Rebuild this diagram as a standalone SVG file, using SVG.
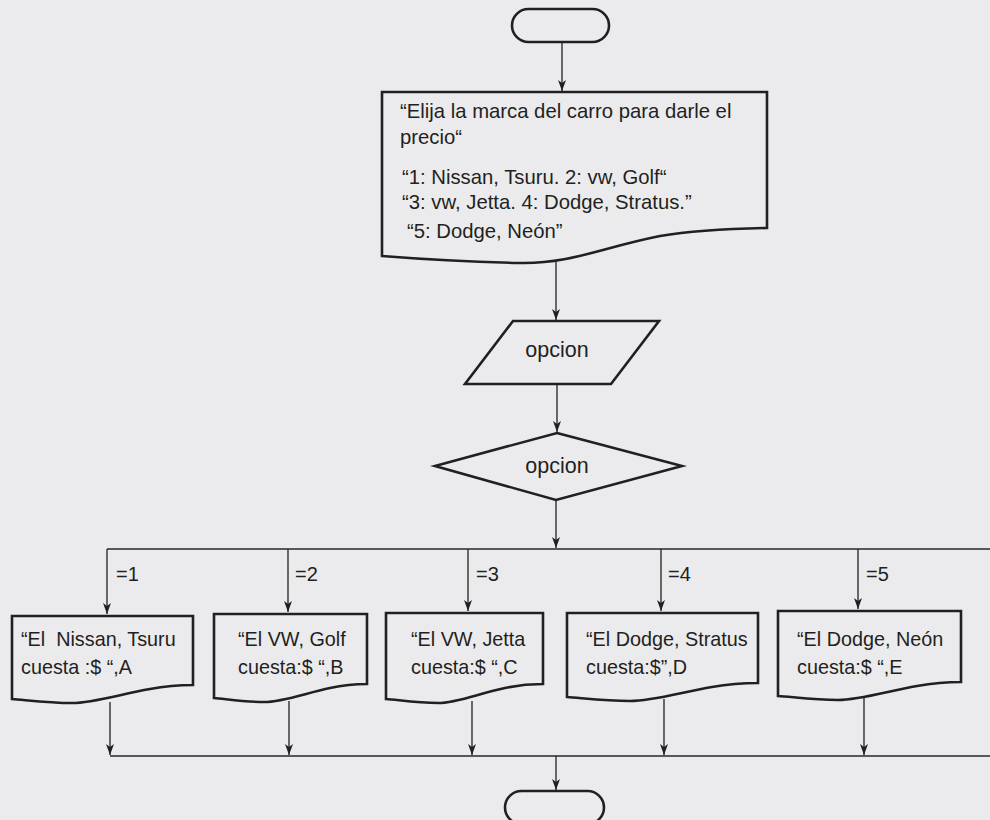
<svg xmlns="http://www.w3.org/2000/svg" width="990" height="820" viewBox="0 0 990 820">
<defs>
<marker id="arr" markerUnits="userSpaceOnUse" markerWidth="12" markerHeight="10" viewBox="0 0 12 10" refX="11" refY="5" orient="auto">
<path d="M0,1 L11,5 L0,9 L3,5 Z" fill="#231f20"/>
</marker>
</defs>
<style>
.shape{fill:none;stroke:#231f20;stroke-width:2.6;stroke-linejoin:miter}
.conn{fill:none;stroke:#231f20;stroke-width:1.3}
.bus{fill:none;stroke:#58585a;stroke-width:2}
text{font-family:"Liberation Sans",Arial,sans-serif;fill:#231f20;white-space:pre}
.t{font-size:20.3px}
.b{font-size:19.8px}
.o{font-size:21.5px}
.lb{font-size:20px}
</style>
<rect x="0" y="0" width="990" height="820" fill="#ebebed"/>

<g id="connectors">
<line class="conn" x1="562" y1="42" x2="562" y2="91" marker-end="url(#arr)"/>
<line class="conn" x1="556" y1="262" x2="556" y2="320" marker-end="url(#arr)"/>
<line class="conn" x1="557" y1="384" x2="557" y2="432" marker-end="url(#arr)"/>
<line class="conn" x1="556" y1="500" x2="556" y2="548" marker-end="url(#arr)"/>
<line class="bus" x1="107" y1="549" x2="990" y2="549"/>
<line class="conn" x1="107" y1="549" x2="107" y2="614" marker-end="url(#arr)"/>
<line class="conn" x1="288" y1="549" x2="288" y2="612" marker-end="url(#arr)"/>
<line class="conn" x1="468" y1="549" x2="468" y2="611" marker-end="url(#arr)"/>
<line class="conn" x1="661" y1="549" x2="661" y2="611" marker-end="url(#arr)"/>
<line class="conn" x1="858" y1="549" x2="858" y2="609" marker-end="url(#arr)"/>
<line class="conn" x1="110" y1="702" x2="110" y2="755" marker-end="url(#arr)"/>
<line class="conn" x1="289" y1="701" x2="289" y2="755" marker-end="url(#arr)"/>
<line class="conn" x1="472" y1="701" x2="472" y2="755" marker-end="url(#arr)"/>
<line class="conn" x1="664" y1="699" x2="664" y2="755" marker-end="url(#arr)"/>
<line class="conn" x1="864" y1="698" x2="864" y2="755" marker-end="url(#arr)"/>
<line class="bus" x1="110" y1="756" x2="990" y2="756"/>
<line class="conn" x1="556" y1="756" x2="556" y2="790" marker-end="url(#arr)"/>
<text class="lb" x="116" y="581">=1</text>
<text class="lb" x="295" y="581">=2</text>
<text class="lb" x="476" y="581">=3</text>
<text class="lb" x="668" y="581">=4</text>
<text class="lb" x="866" y="581">=5</text>
</g>

<g id="start">
<rect class="shape" x="512" y="9" width="97" height="33" rx="16.5"/>
</g>

<g id="prompt">
<path class="shape" d="M382,92 H767 V228 C720,229 690,231 660,236 C600,248 570,264 520,263 C470,262 420,259 382,256 Z"/>
<text class="t" x="400" y="118">“Elija la marca del carro para darle el</text>
<text class="t" x="400" y="144">precio“</text>
<text class="t" x="402" y="184">“1: Nissan, Tsuru. 2: vw, Golf“</text>
<text class="t" x="402" y="209">“3: vw, Jetta. 4: Dodge, Stratus.”</text>
<text class="t" x="407" y="238">“5: Dodge, Neón”</text>
</g>

<g id="input">
<path class="shape" d="M513,321 H659 L611,384 H465 Z"/>
<text class="o" x="557" y="357" text-anchor="middle">opcion</text>
</g>

<g id="decision">
<path class="shape" d="M557,433 L682,466 L556,500 L435,466 Z"/>
<text class="o" x="557" y="473" text-anchor="middle">opcion</text>
</g>

<g id="out1">
<path class="shape" d="M12,616 H193 V685 C175,685 166,686 150,689 C121,694 93,703 72,703 C48,703 26,700 12,699 Z"/>
<text class="b" x="21" y="646">“El  Nissan, Tsuru</text>
<text class="b" x="21" y="674">cuesta :$ “,A</text>
</g>

<g id="out2">
<path class="shape" d="M214,614 H367 V684 C352,684 344,685 330,688 C306,693 283,702 264,702 C245,702 226,699 214,698 Z"/>
<text class="b" x="238" y="646">“El VW, Golf</text>
<text class="b" x="238" y="674">cuesta:$ “,B</text>
</g>

<g id="out3">
<path class="shape" d="M386,613 H543 V684 C527,684 519,685 505,688 C480,693 457,703 438,703 C417,703 399,700 386,699 Z"/>
<text class="b" x="411" y="646">“El VW, Jetta</text>
<text class="b" x="411" y="674">cuesta:$ “,C</text>
</g>

<g id="out4">
<path class="shape" d="M567,613 H758 V683 C739,683 729,684 712,687 C682,692 653,701 630,701 C605,701 582,698 567,697 Z"/>
<text class="b" x="586" y="646">“El Dodge, Stratus</text>
<text class="b" x="586" y="674">cuesta:$”,D</text>
</g>

<g id="out5">
<path class="shape" d="M778,611 H961 V682 C943,682 934,683 917,686 C888,691 860,700 838,700 C815,700 793,697 778,696 Z"/>
<text class="b" x="797" y="646">“El Dodge, Neón</text>
<text class="b" x="797" y="674">cuesta:$ “,E</text>
</g>

<g id="end">
<rect class="shape" x="505" y="791" width="99" height="33" rx="16.5"/>
</g>
</svg>
